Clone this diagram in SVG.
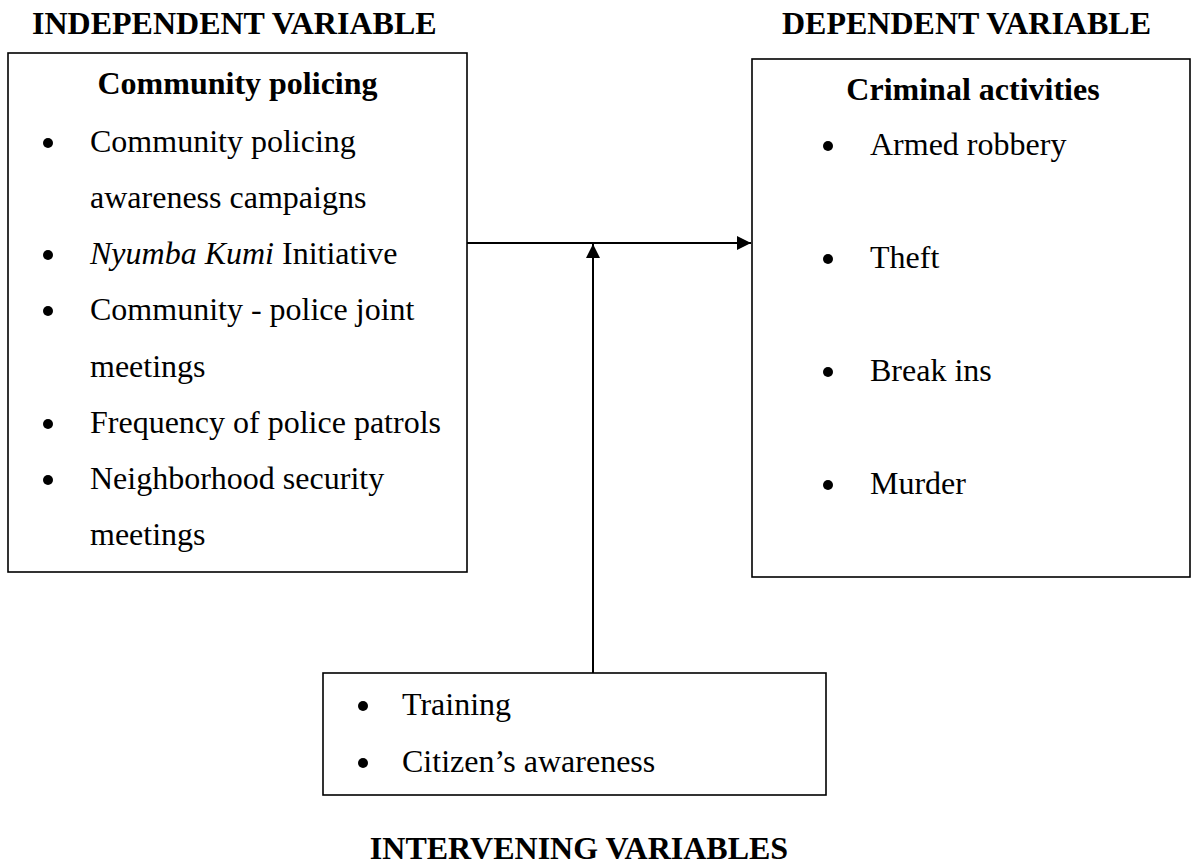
<svg xmlns="http://www.w3.org/2000/svg" width="1192" height="865" viewBox="0 0 1192 865">
<style>
text{font-family:"Liberation Serif","Times New Roman",serif;font-size:32px;fill:#000}
.b{font-weight:bold}
.c{text-anchor:middle}
.box{fill:#fff;stroke:#000;stroke-width:1.6}
.dot{fill:#000}
.ln{stroke:#000;stroke-width:2;fill:none}
</style>
<defs>
<marker id="ah" viewBox="0 0 10 10" refX="10" refY="5" markerWidth="15" markerHeight="14" markerUnits="userSpaceOnUse" orient="auto">
<path d="M0,0 L10,5 L0,10 Z" fill="#000"/>
</marker>
</defs>
<text class="b" x="32" y="34">INDEPENDENT VARIABLE</text>
<text class="b" x="782" y="34">DEPENDENT VARIABLE</text>
<text class="b c" x="579" y="859">INTERVENING VARIABLES</text>
<g id="independent">
<rect class="box" x="8" y="53" width="459" height="519"/>
<text class="b c" x="237.5" y="94">Community policing</text>
<circle class="dot" cx="48" cy="143" r="5"/>
<text x="90" y="152">Community policing</text>
<text x="90" y="208">awareness campaigns</text>
<circle class="dot" cx="48" cy="255" r="5"/>
<text x="90" y="264"><tspan font-style="italic">Nyumba Kumi</tspan> Initiative</text>
<circle class="dot" cx="48" cy="311" r="5"/>
<text x="90" y="320">Community - police joint</text>
<text x="90" y="377">meetings</text>
<circle class="dot" cx="48" cy="424" r="5"/>
<text x="90" y="433">Frequency of police patrols</text>
<circle class="dot" cx="48" cy="480" r="5"/>
<text x="90" y="489">Neighborhood security</text>
<text x="90" y="545">meetings</text>
</g>
<g id="dependent">
<rect class="box" x="752" y="59" width="438" height="518"/>
<text class="b c" x="973" y="100">Criminal activities</text>
<circle class="dot" cx="828" cy="146" r="5"/>
<text x="870" y="155">Armed robbery</text>
<circle class="dot" cx="828" cy="259" r="5"/>
<text x="870" y="268">Theft</text>
<circle class="dot" cx="828" cy="372" r="5"/>
<text x="870" y="381">Break ins</text>
<circle class="dot" cx="828" cy="485" r="5"/>
<text x="870" y="494">Murder</text>
</g>
<g id="intervening">
<rect class="box" x="323" y="673" width="503" height="122"/>
<circle class="dot" cx="363" cy="706" r="5"/>
<text x="402" y="715">Training</text>
<circle class="dot" cx="363" cy="763" r="5"/>
<text x="402" y="772">Citizen’s awareness</text>
</g>
<g id="connectors">
<line class="ln" x1="467" y1="243" x2="751" y2="243" marker-end="url(#ah)"/>
<line class="ln" x1="593" y1="673" x2="593" y2="244" marker-end="url(#ah)"/>
</g>
</svg>
